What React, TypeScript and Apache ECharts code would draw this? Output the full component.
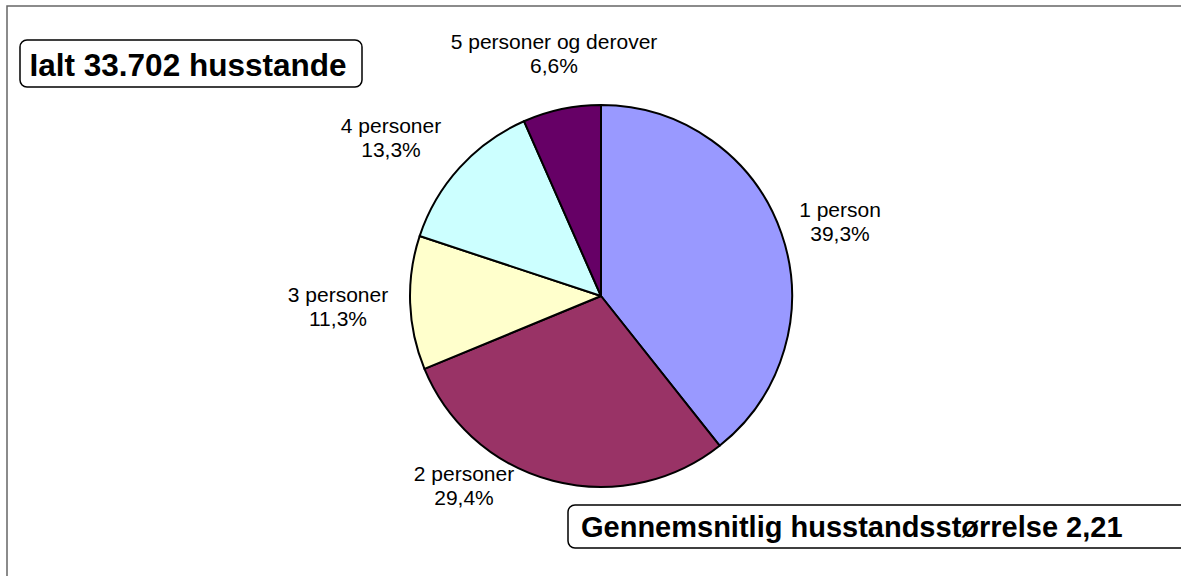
import React, { useEffect, useRef } from "react";
import * as echarts from "echarts";

const categories = ["1 person", "2 personer", "3 personer", "4 personer", "5 personer og derover"];
const shares = [39.3, 29.4, 11.3, 13.3, 6.6];
const sliceColors = ["#9999FF", "#993366", "#FFFFCC", "#CCFFFF", "#660066"];
const totalText = "Ialt 33.702 husstande";
const averageText = "Gennemsnitlig husstandsstørrelse 2,21";

// layout (not data)
const PIE_CX = 601;
const PIE_CY = 296;
const PIE_R = 191;
const LABEL_OFFSETS: [number, number][] = [
  [239, -75],
  [-137, 189],
  [-263, 10],
  [-210, -159],
  [-47, -243],
];

const FONT = '"Liberation Sans", Arial, Helvetica, sans-serif';

export default function App() {
  const ref = useRef<HTMLDivElement>(null);
  useEffect(() => {
    if (!ref.current) return;
    const chart = echarts.init(ref.current, undefined, { renderer: "svg" });
    chart.setOption({
      animation: false,
      backgroundColor: "#ffffff",
      graphic: [
        {
          type: "rect",
          shape: { x: 7, y: 6, width: 1300, height: 700 },
          style: { fill: "none", stroke: "#666666", lineWidth: 1.5 },
          z: 1,
        },
        {
          type: "rect",
          shape: { x: 20, y: 40, width: 342, height: 47, r: 7 },
          style: { fill: "#ffffff", stroke: "#000000", lineWidth: 1.5 },
          z: 10,
        },
        {
          type: "text",
          x: 188,
          y: 65,
          style: {
            text: totalText,
            font: `bold 31.5px ${FONT}`,
            fill: "#000000",
            align: "center",
            verticalAlign: "middle",
          },
          z: 11,
        },
        {
          type: "rect",
          shape: { x: 568, y: 505, width: 800, height: 43, r: 7 },
          style: { fill: "#ffffff", stroke: "#000000", lineWidth: 1.5 },
          z: 10,
        },
        {
          type: "text",
          x: 581,
          y: 527,
          style: {
            text: averageText,
            font: `bold 29px ${FONT}`,
            fill: "#000000",
            align: "left",
            verticalAlign: "middle",
          },
          z: 11,
        },
      ],
      series: [
        {
          type: "pie",
          center: [PIE_CX, PIE_CY],
          radius: PIE_R,
          startAngle: 90,
          clockwise: true,
          avoidLabelOverlap: false,
          data: categories.map((name, i) => ({
            name,
            value: shares[i],
            itemStyle: { color: sliceColors[i] },
          })),
          itemStyle: { borderColor: "#000000", borderWidth: 2 },
          emphasis: { disabled: true },
          label: {
            show: true,
            position: "outside",
            formatter: (p: any) => `${p.name}\n${Number(p.value).toFixed(1).replace(".", ",")}%`,
            fontFamily: FONT,
            fontSize: 21,
            lineHeight: 24,
            color: "#000000",
            align: "center",
          },
          labelLine: { show: false },
          labelLayout: (params: any) => {
            const off = LABEL_OFFSETS[params.dataIndex];
            return {
              x: PIE_CX + off[0],
              y: PIE_CY + off[1],
              align: "center",
              verticalAlign: "middle",
            };
          },
        },
      ],
    });
    return () => chart.dispose();
  }, []);
  return (
    <div
      ref={ref}
      style={{ position: "fixed", left: 0, top: 0, width: 1181, height: 576 }}
    />
  );
}
